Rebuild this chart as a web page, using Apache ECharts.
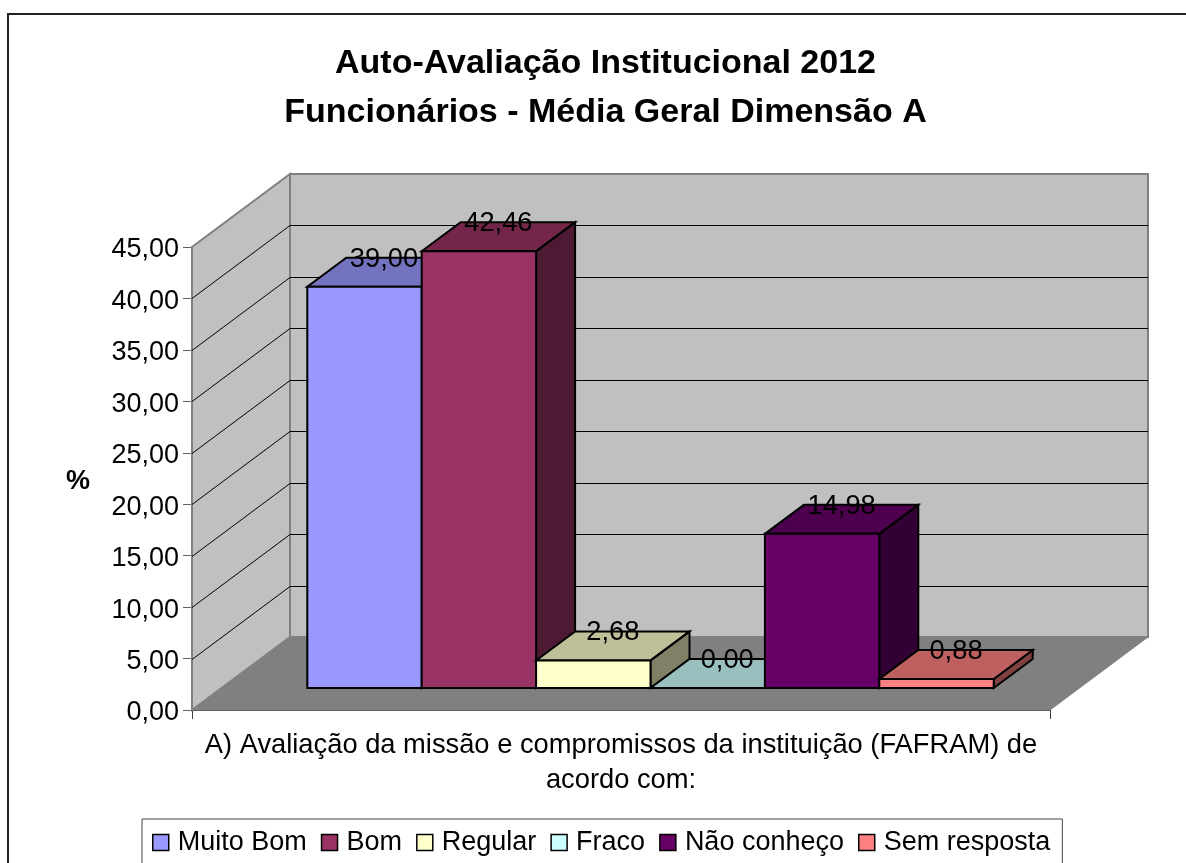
<!DOCTYPE html>
<html>
<head>
<meta charset="utf-8">
<style>html,body{margin:0;padding:0;background:#fff;overflow:hidden}#chart{width:1186px;height:863px}</style>
<script src="https://cdn.jsdelivr.net/npm/echarts@6/dist/echarts.min.js"></script>
</head>
<body>
<div id="chart"></div>
<script>
var titleLines = ['Auto-Avaliação Institucional 2012', 'Funcionários - Média Geral Dimensão A'];
var categoryLabel = 'A) Avaliação da missão e compromissos da instituição (FAFRAM) de\nacordo com:';
var seriesNames = ['Muito Bom', 'Bom', 'Regular', 'Fraco', 'Não conheço', 'Sem resposta'];
var seriesValues = [39.00, 42.46, 2.68, 0.00, 14.98, 0.88];
var frontColors = ['#9999ff', '#993366', '#ffffcc', '#ccffff', '#660066', '#ff8080'];
var topColors = ['#7373bf', '#732649', '#bfbf99', '#99bfbf', '#4d004d', '#bf6060'];
var sideColors = ['#4d4d80', '#4d1a33', '#808066', '#668080', '#330033', '#804040'];
var gridTicks = [5, 10, 15, 20, 25, 30, 35, 40];

// Oblique projection of the chart box
var WALL_DX = 98, WALL_DY = 73;
var BAR_INSET_DX = 29.5, BAR_INSET_DY = 22;
var BAR_DX = 39, BAR_DY = 29;
var GAP_SHARE = 1.5;
var FONT = '"Liberation Sans", Arial, sans-serif';

function fmt(v) { return v.toFixed(2).replace('.', ','); }
function poly(points, fill, stroke, width) {
  return { type: 'polygon', shape: { points: points },
    style: { fill: fill, stroke: stroke, lineWidth: width, lineJoin: 'miter' } };
}

function renderWalls(params, api) {
  var p0 = api.coord([0, 0]), p45 = api.coord([0, 45]);
  var cs = params.coordSys;
  var xl = cs.x, xr = cs.x + cs.width, y0 = p0[1], yT = p45[1];
  var dx = WALL_DX, dy = WALL_DY;
  return { type: 'group', children: [
    poly([[xl + dx, y0 - dy], [xr + dx, y0 - dy], [xr + dx, yT - dy], [xl + dx, yT - dy]], '#c0c0c0', '#808080', 2),
    poly([[xl, y0], [xl + dx, y0 - dy], [xl + dx, yT - dy], [xl, yT]], '#c0c0c0', '#808080', 2),
    poly([[xl, y0], [xr, y0], [xr + dx, y0 - dy], [xl + dx, y0 - dy]], '#808080', '#808080', 1)
  ]};
}

function renderGridLine(params, api) {
  var p = api.coord([0, api.value(0)]);
  var cs = params.coordSys;
  var xl = cs.x, xr = cs.x + cs.width, y = Math.round(p[1]) + 0.5;
  var st = { stroke: '#000', lineWidth: 1, fill: null };
  return { type: 'group', children: [
    { type: 'polyline', shape: { points: [[xl, y], [xl + WALL_DX, y - WALL_DY], [xr + WALL_DX, y - WALL_DY]] }, style: st }
  ]};
}

function barRenderer(index) {
  return function (params, api) {
    var value = api.value(0);
    var base = api.coord([0, 0]);
    var top = api.coord([0, value]);
    var cs = params.coordSys;
    var w = cs.width / (seriesNames.length + GAP_SHARE);
    var x0 = cs.x + BAR_INSET_DX + w * (GAP_SHARE / 2 + index);
    var x1 = x0 + w;
    var yb = base[1] - BAR_INSET_DY;
    var yt = top[1] - BAR_INSET_DY;
    var dx = BAR_DX, dy = BAR_DY;
    var lw = 2;
    return { type: 'group', children: [
      poly([[x1, yb], [x1 + dx, yb - dy], [x1 + dx, yt - dy], [x1, yt]], sideColors[index], '#000', lw),
      poly([[x0, yt], [x1, yt], [x1 + dx, yt - dy], [x0 + dx, yt - dy]], topColors[index], '#000', lw),
      poly([[x0, yb], [x1, yb], [x1, yt], [x0, yt]], frontColors[index], '#000', lw),
      { type: 'text', z2: 100, style: {
          x: (x0 + x1) / 2 + 19.5, y: yt - dy + 1.5, text: fmt(value),
          fill: '#000', font: '27.3px ' + FONT, align: 'center', verticalAlign: 'middle' } }
    ]};
  };
}

var series = [
  { name: '__walls', type: 'custom', silent: true, data: [[0]], renderItem: renderWalls, z: 1, encode: { y: 0 } },
  { name: '__grid', type: 'custom', silent: true, data: gridTicks.map(function (t) { return [t]; }), renderItem: renderGridLine, z: 2, encode: { y: 0 } }
];
seriesNames.forEach(function (name, i) {
  series.push({ name: name, type: 'custom', data: [[seriesValues[i]]], renderItem: barRenderer(i), z: 3 + i,
    encode: { y: 0 }, itemStyle: { color: frontColors[i] } });
});

var chart = echarts.init(document.getElementById('chart'), null, { renderer: 'canvas' });
chart.setOption({
  animation: false,
  backgroundColor: '#fff',
  textStyle: { fontFamily: FONT, color: '#000' },
  title: {
    text: titleLines.join('\n'), left: 600.5, top: 34, textAlign: 'center',
    textStyle: { fontFamily: FONT, fontWeight: 'bold', fontSize: 34, lineHeight: 49, color: '#000' }
  },
  grid: { left: 192, right: 136, top: 247, height: 463, containLabel: false },
  xAxis: {
    type: 'category', data: [categoryLabel], boundaryGap: true,
    axisLine: { show: true, lineStyle: { color: '#000', width: 1.5 } },
    axisTick: { show: true, length: 9, lineStyle: { color: '#404040', width: 1 } },
    axisLabel: { margin: 18, fontFamily: FONT, fontSize: 27.3, lineHeight: 35, color: '#000', interval: 0 }
  },
  yAxis: {
    type: 'value', min: 0, max: 45, interval: 5,
    name: '%', nameLocation: 'middle', nameGap: 102, nameRotate: 0,
    nameTextStyle: { fontFamily: FONT, fontWeight: 'bold', fontSize: 27, color: '#000', verticalAlign: 'top', lineHeight: 6 },
    axisLine: { show: true, lineStyle: { color: '#404040', width: 1.5 } },
    axisTick: { show: true, length: 9, lineStyle: { color: '#606060', width: 1 } },
    axisLabel: { margin: 13, fontFamily: FONT, fontSize: 27, color: '#000', formatter: fmt, verticalAlign: 'top', lineHeight: 6 },
    splitLine: { show: false }
  },
  legend: {
    data: seriesNames, left: 142, top: 819, orient: 'horizontal', icon: 'rect',
    itemWidth: 16, itemHeight: 16, itemGap: 14,
    padding: [10, 12, 30, 10],
    backgroundColor: '#fff', borderColor: '#444', borderWidth: 1,
    itemStyle: { borderColor: '#000', borderWidth: 1.5 },
    textStyle: { fontFamily: FONT, fontSize: 27, color: '#000', padding: [0, 0, 0, 4] }
  },
  graphic: [
    { type: 'rect', silent: true, z: -1, shape: { x: 8, y: 14, width: 1400, height: 1000 },
      style: { fill: 'none', stroke: '#222', lineWidth: 2 } }
  ],
  series: series
});
</script>
</body>
</html>
